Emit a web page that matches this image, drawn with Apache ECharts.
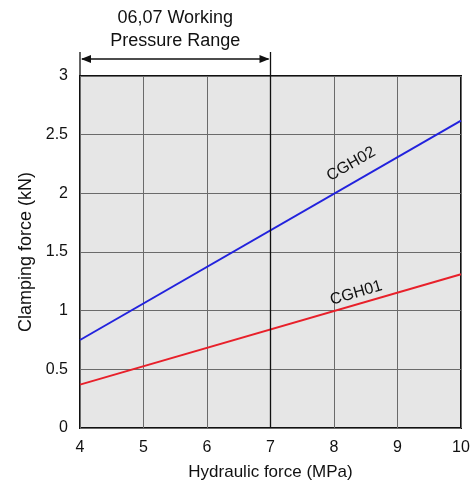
<!DOCTYPE html>
<html>
<head>
<meta charset="utf-8">
<script src="https://cdn.jsdelivr.net/npm/echarts@6/dist/echarts.min.js"></script>
<style>
html,body{margin:0;padding:0;background:#fff;}
#chart{width:474px;height:486px;}
</style>
</head>
<body>
<div id="chart"></div>
<script>
var pressure = [4, 10];
var cgh02 = [0.75, 2.62];
var cgh01 = [0.37, 1.31];
var rangeStart = 4, rangeEnd = 7;
var FONT = 'Liberation Sans, Arial, sans-serif';

var myChart = echarts.init(document.getElementById('chart'));

function pairs(xs, ys) {
    return xs.map(function (x, i) { return [x, ys[i]]; });
}

var option = {
    backgroundColor: '#fff',
    animation: false,
    grid: {
        left: 80, right: 13, top: 76, bottom: 54,
        show: true,
        backgroundColor: '#e6e6e6',
        borderColor: '#111',
        borderWidth: 2
    },
    xAxis: {
        type: 'value', min: 4, max: 10, interval: 1,
        name: 'Hydraulic force (MPa)',
        nameLocation: 'middle', nameGap: 36,
        nameTextStyle: {color: '#111', fontSize: 17, fontFamily: FONT},
        axisLine: {show: false},
        axisTick: {show: false},
        axisLabel: {color: '#111', fontSize: 16, fontFamily: FONT, margin: 12},
        splitLine: {show: true, lineStyle: {color: '#6a6a6a', width: 1}}
    },
    yAxis: {
        type: 'value', min: 0, max: 3, interval: 0.5,
        name: 'Clamping force (kN)',
        nameLocation: 'middle', nameGap: 45,
        nameTextStyle: {color: '#111', fontSize: 18, fontFamily: FONT},
        axisLine: {show: false},
        axisTick: {show: false},
        axisLabel: {color: '#111', fontSize: 16, fontFamily: FONT, margin: 12},
        splitLine: {show: true, lineStyle: {color: '#6a6a6a', width: 1}}
    },
    series: [{
        type: 'line', data: pairs(pressure, cgh02), symbol: 'none',
        lineStyle: {color: '#2222dd', width: 2}
    }, {
        type: 'line', data: pairs(pressure, cgh01), symbol: 'none',
        lineStyle: {color: '#e8202a', width: 2},
        markLine: {
            silent: true, symbol: 'none', label: {show: false},
            lineStyle: {color: '#111', width: 1.3, type: 'solid'},
            data: [{xAxis: rangeEnd}]
        }
    }]
};
myChart.setOption(option);

// annotations placed from data coordinates
function px(x, y) { return myChart.convertToPixel({gridIndex: 0}, [x, y]); }
var pL = px(rangeStart, 3);
var pR = px(rangeEnd, 3);
var arrowY = pL[1] - 17;
var l2 = px(8.27, 2.25);
var l1 = px(8.35, 1.15);
var dx = px(10, 0)[0] - px(4, 0)[0];
var a2 = Math.atan2(px(4, cgh02[0])[1] - px(10, cgh02[1])[1], dx);
var a1 = Math.atan2(px(4, cgh01[0])[1] - px(10, cgh01[1])[1], dx);

myChart.setOption({
    graphic: [
        {type: 'line', shape: {x1: pL[0], y1: pL[1] - 24, x2: pL[0], y2: pL[1]}, style: {stroke: '#111', lineWidth: 1.3}},
        {type: 'line', shape: {x1: pR[0], y1: pR[1] - 24, x2: pR[0], y2: pR[1]}, style: {stroke: '#111', lineWidth: 1.3}},
        {type: 'line', shape: {x1: pL[0] + 2, y1: arrowY, x2: pR[0] - 2, y2: arrowY}, style: {stroke: '#111', lineWidth: 1.3}},
        {type: 'polygon', shape: {points: [[pL[0] + 1, arrowY], [pL[0] + 11, arrowY - 4], [pL[0] + 11, arrowY + 4]]}, style: {fill: '#111'}},
        {type: 'polygon', shape: {points: [[pR[0] - 1, arrowY], [pR[0] - 11, arrowY - 4], [pR[0] - 11, arrowY + 4]]}, style: {fill: '#111'}},
        {type: 'text', x: (pL[0] + pR[0]) / 2, y: 18, style: {text: '06,07 Working', font: '18px ' + FONT, fill: '#111', align: 'center', verticalAlign: 'middle'}},
        {type: 'text', x: (pL[0] + pR[0]) / 2, y: 41, style: {text: 'Pressure Range', font: '18px ' + FONT, fill: '#111', align: 'center', verticalAlign: 'middle'}},
        {type: 'text', x: l2[0], y: l2[1], rotation: a2, style: {text: 'CGH02', font: '16px ' + FONT, fill: '#111', align: 'center', verticalAlign: 'middle'}},
        {type: 'text', x: l1[0], y: l1[1], rotation: a1, style: {text: 'CGH01', font: '16px ' + FONT, fill: '#111', align: 'center', verticalAlign: 'middle'}}
    ]
});
</script>
</body>
</html>
